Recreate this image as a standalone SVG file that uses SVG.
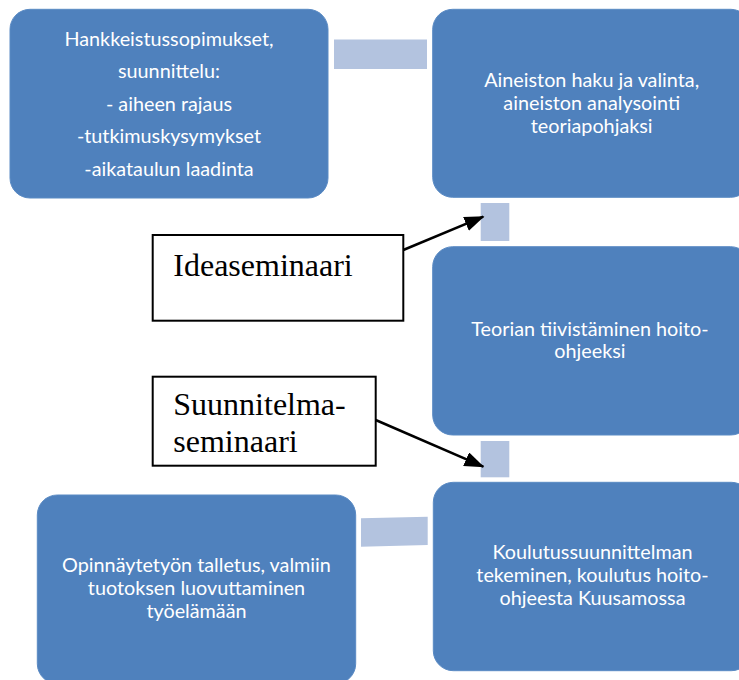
<svg xmlns="http://www.w3.org/2000/svg" width="739" height="680" viewBox="0 0 739 680">
  <style>
    .node { fill: #4f81bd; stroke: #5b8bc4; stroke-width: 1; }
    .conn { fill: #b3c3df; }
    .wt { font-family: Lato, "Open Sans", sans-serif; font-size: 19.8px; fill: #ffffff; text-anchor: middle; }
    .lbl { fill: #ffffff; stroke: #000000; stroke-width: 2; }
    .st { font-family: "Liberation Serif", "Times New Roman", serif; font-size: 32px; fill: #000000; }
    .arrow { stroke: #000000; stroke-width: 2.5; fill: none; marker-end: url(#ah); }
  </style>
  <defs>
    <marker id="ah" markerWidth="8" markerHeight="6" refX="7.5" refY="3" orient="auto" markerUnits="strokeWidth">
      <path d="M0,0 L8,3 L0,6 Z" fill="#000000"/>
    </marker>
  </defs>
  <rect width="739" height="680" fill="#ffffff"/>

  <g id="connectors">
    <rect class="conn" x="334" y="39.5" width="93" height="29.5"/>
    <rect class="conn" x="480.7" y="203" width="28.6" height="38"/>
    <rect class="conn" x="480.7" y="441" width="28.6" height="36.3"/>
    <polygon class="conn" points="361,518.3 427.7,516.7 427.7,545 361,546.7"/>
    <line class="arrow" x1="403.3" y1="250" x2="483.3" y2="216.7"/>
    <line class="arrow" x1="375.7" y1="420" x2="483.3" y2="466.7"/>
  </g>

  <g id="n1">
    <rect class="node" x="10" y="9.3" width="318" height="188.7" rx="20"/>
    <text class="wt" x="169" y="45.5">Hankkeistussopimukset,</text>
    <text class="wt" x="169" y="78">suunnittelu:</text>
    <text class="wt" x="169" y="110.5">- aiheen rajaus</text>
    <text class="wt" x="169" y="143">-tutkimuskysymykset</text>
    <text class="wt" x="169" y="175.5">-aikataulun laadinta</text>
  </g>

  <g id="n2">
    <rect class="node" x="432.7" y="9.3" width="318" height="188" rx="20"/>
    <text class="wt" x="591.7" y="87.3">Aineiston haku ja valinta,</text>
    <text class="wt" x="591.7" y="110">aineiston analysointi</text>
    <text class="wt" x="591.7" y="132.7">teoriapohjaksi</text>
  </g>

  <g id="n3">
    <rect class="node" x="432.7" y="246.7" width="318" height="188.3" rx="20"/>
    <text class="wt" x="590" y="335.7">Teorian tiivistäminen hoito-</text>
    <text class="wt" x="590" y="358.3">ohjeeksi</text>
  </g>

  <g id="n4">
    <rect class="node" x="433.3" y="482.3" width="318" height="188.4" rx="20"/>
    <text class="wt" x="592.5" y="559.3">Koulutussuunnittelman</text>
    <text class="wt" x="592.5" y="582.3">tekeminen, koulutus hoito-</text>
    <text class="wt" x="592.5" y="605">ohjeesta Kuusamossa</text>
  </g>

  <g id="n5">
    <rect class="node" x="37.3" y="495" width="318.4" height="188.7" rx="20"/>
    <text class="wt" x="196.5" y="571.7">Opinnäytetyön talletus, valmiin</text>
    <text class="wt" x="196.5" y="595">tuotoksen luovuttaminen</text>
    <text class="wt" x="196.5" y="617.7">työelämään</text>
  </g>

  <g id="ideaseminaari">
    <rect class="lbl" x="152.7" y="235" width="250.6" height="85.7"/>
    <text class="st" x="173.3" y="275.7">Ideaseminaari</text>
  </g>

  <g id="suunnitelmaseminaari">
    <rect class="lbl" x="152.7" y="376.7" width="223" height="89"/>
    <text class="st" x="173.3" y="415">Suunnitelma-</text>
    <text class="st" x="173.3" y="452.3">seminaari</text>
  </g>
</svg>
